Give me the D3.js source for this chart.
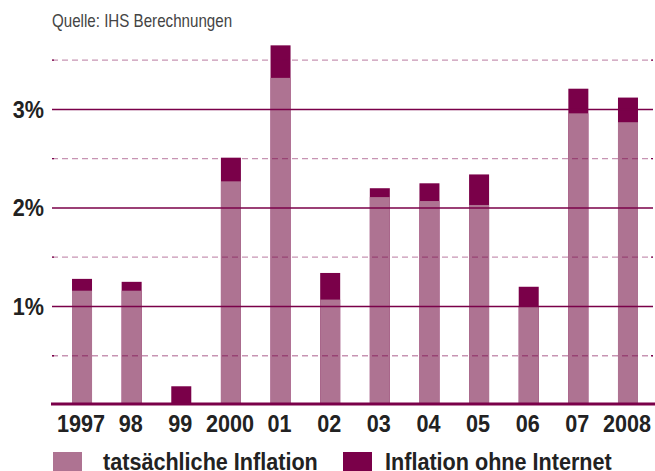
<!DOCTYPE html>
<html>
<head>
<meta charset="utf-8">
<script src="https://cdn.jsdelivr.net/npm/d3@7"></script>
<style>
  body { margin: 0; background: #fff; }
  svg { display: block; }
  text { font-family: "Liberation Sans", Arial, sans-serif; }
</style>
</head>
<body>
<div id="chart"></div>
<script>
// Inflation in Deutschland, mit und ohne Internet
const years = ['1997', '98', '99', '2000', '01', '02', '03', '04', '05', '06', '07', '2008'];
const actualInflation = [1.16, 1.16, 0, 2.27, 3.32, 1.07, 2.11, 2.07, 2.03, 1.0, 2.96, 2.87];
const noInternetInflation = [1.28, 1.25, 0.19, 2.51, 3.65, 1.34, 2.20, 2.25, 2.34, 1.20, 3.21, 3.12];
const majorTicks = [1, 2, 3];
const minorTicks = [0.5, 1.5, 2.5, 3.5];
const legendLabels = ['tatsächliche Inflation', 'Inflation ohne Internet'];

const width = 655;
const height = 471;
const light = '#ae7392';
const dark = '#7a0049';
const squeeze = 0.9; // no condensed font installed, so narrow the text by hand

const svg = d3.select('#chart')
    .append('svg')
    .attr('width', width)
    .attr('height', height);

const x = d3.scaleBand()
    .domain(years)
    .range([57.2, 652.8])
    .paddingInner(0.597)
    .paddingOuter(0.2985);

const y = d3.scaleLinear()
    .domain([0, 3])
    .range([405, 109.4]);

const gridLeft = 52;
const gridRight = 653;

function place(px, py, sx) {
    return `translate(${px},${py}) scale(${sx},1)`;
}

// source line
svg.append('text')
    .attr('transform', place(52, 27, 0.865))
    .attr('font-size', 17.5)
    .attr('fill', '#444')
    .text('Quelle: IHS Berechnungen');

// bars: dark = total without internet, light = actual in front
svg.append('g')
    .selectAll('rect')
    .data(years)
    .enter().append('rect')
    .attr('x', d => x(d))
    .attr('width', x.bandwidth())
    .attr('y', (d, i) => y(noInternetInflation[i]))
    .attr('height', (d, i) => y(0) - y(noInternetInflation[i]))
    .attr('fill', dark);

svg.append('g')
    .selectAll('rect')
    .data(years)
    .enter().append('rect')
    .attr('x', d => x(d))
    .attr('width', x.bandwidth())
    .attr('y', (d, i) => y(actualInflation[i]))
    .attr('height', (d, i) => y(0) - y(actualInflation[i]))
    .attr('fill', light);

// dashed half-percent lines, drawn over the bars
const minor = svg.append('g');
minor.selectAll('line.dash')
    .data(minorTicks)
    .enter().append('line')
    .attr('x1', gridLeft)
    .attr('x2', gridRight)
    .attr('y1', d => y(d))
    .attr('y2', d => y(d))
    .attr('stroke', dark)
    .attr('stroke-opacity', 0.42)
    .attr('stroke-width', 1.3)
    .attr('stroke-dasharray', '6,4');
minor.selectAll('line.capL')
    .data(minorTicks)
    .enter().append('line')
    .attr('x1', gridLeft)
    .attr('x2', gridLeft + 2)
    .attr('y1', d => y(d))
    .attr('y2', d => y(d))
    .attr('stroke', dark)
    .attr('stroke-width', 1.3);
minor.selectAll('line.capR')
    .data(minorTicks)
    .enter().append('line')
    .attr('x1', gridRight - 2)
    .attr('x2', gridRight)
    .attr('y1', d => y(d))
    .attr('y2', d => y(d))
    .attr('stroke', dark)
    .attr('stroke-width', 1.3);

// solid percent lines
svg.append('g')
    .selectAll('line')
    .data(majorTicks)
    .enter().append('line')
    .attr('x1', gridLeft)
    .attr('x2', gridRight)
    .attr('y1', d => y(d))
    .attr('y2', d => y(d))
    .attr('stroke', dark)
    .attr('stroke-width', 1.5);

// y labels
svg.append('g')
    .selectAll('text')
    .data(majorTicks)
    .enter().append('text')
    .attr('transform', d => place(44, y(d) + 8.5, squeeze))
    .attr('text-anchor', 'end')
    .attr('font-size', 24)
    .attr('font-weight', 'bold')
    .attr('fill', '#222')
    .text(d => d + '%');

// baseline
svg.append('line')
    .attr('x1', 51)
    .attr('x2', 655)
    .attr('y1', y(0) - 1)
    .attr('y2', y(0) - 1)
    .attr('stroke', dark)
    .attr('stroke-width', 3);

// x labels
svg.append('g')
    .selectAll('text')
    .data(years)
    .enter().append('text')
    .attr('transform', d => place(x(d) + x.bandwidth() / 2 - 1, 432, squeeze))
    .attr('text-anchor', 'middle')
    .attr('font-size', 24)
    .attr('font-weight', 'bold')
    .attr('fill', '#222')
    .text(d => d);

// legend
const legend = svg.append('g');
const legendItems = [
    {label: legendLabels[0], color: light, box: 53, text: 103},
    {label: legendLabels[1], color: dark, box: 343, text: 385}
];
legendItems.forEach(item => {
    legend.append('rect')
        .attr('x', item.box)
        .attr('y', 452)
        .attr('width', 29)
        .attr('height', 22)
        .attr('fill', item.color);
    legend.append('text')
        .attr('transform', place(item.text, 470, squeeze))
        .attr('font-size', 24)
        .attr('font-weight', 'bold')
        .attr('fill', '#222')
        .text(item.label);
});
</script>
</body>
</html>
